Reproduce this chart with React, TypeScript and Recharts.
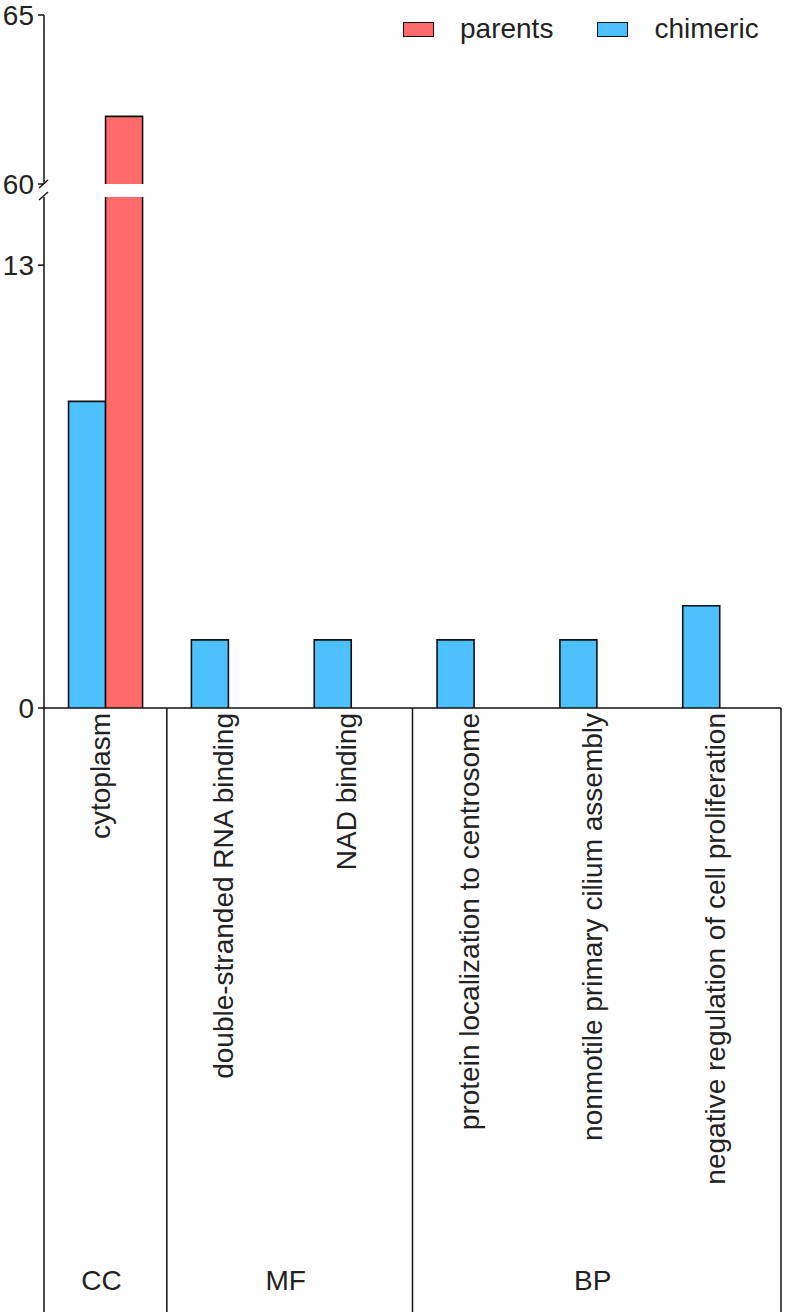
import { BarChart, Bar, XAxis, YAxis, Legend } from "recharts";

const CATEGORIES = [
  "cytoplasm",
  "double-stranded RNA binding",
  "NAD binding",
  "protein localization to centrosome",
  "nonmotile primary cilium assembly",
  "negative regulation of cell proliferation",
];
const GROUP_OF = ["CC", "MF", "MF", "BP", "BP", "BP"];
const CHIMERIC = [9, 2, 2, 2, 2, 3];
const PARENTS = [62, 0, 0, 0, 0, 0];

const UPPER_DOMAIN = [60, 65];
const UPPER_TICKS = [60, 65];
const LOWER_DOMAIN = [0, 15];
const LOWER_TICKS = [0, 13];

const LEGEND_ORDER = ["parents", "chimeric"];

const BLUE = "#4DC0FF";
const RED = "#FF6B6B";
const INK = "#111";
const FONT = "'Liberation Sans', Arial, sans-serif";

// layout
const W = 787;
const AXIS_X = 44;
const PLOT_RIGHT = 781;
const BAND = (PLOT_RIGHT - AXIS_X) / CATEGORIES.length;
const UPPER_H = 206;
const LOWER_TOP = 190;
const LOWER_H = 1315 - LOWER_TOP;
const AXIS_AREA = 604;

const upperData = CATEGORIES.map((name, i) => ({
  name,
  chimeric: CHIMERIC[i] > UPPER_DOMAIN[0] ? CHIMERIC[i] : null,
  parents: PARENTS[i] > UPPER_DOMAIN[0] ? PARENTS[i] : null,
}));

const lowerData = CATEGORIES.map((name, i) => ({
  name,
  chimeric: CHIMERIC[i],
  parents: PARENTS[i],
}));

// bar with outline on left, top, right only (bottom sits on axis / break)
const OpenBar = (props: any) => {
  const { x, y, width, height, fill } = props;
  if (!height || height < 0.5) return <g />;
  return (
    <g>
      <rect x={x} y={y} width={width} height={height} fill={fill} />
      <path
        d={`M${x},${y + height}V${y}H${x + width}V${y + height}`}
        fill="none"
        stroke={INK}
        strokeWidth={1.6}
      />
    </g>
  );
};

const YTick = (props: any) => {
  const { x, y, payload, brk } = props;
  return (
    <g>
      <text x={x} y={y} dy="0.36em" textAnchor="end" fontSize={28} fill="#222" fontFamily={FONT}>
        {payload.value}
      </text>
      {brk && payload.value === UPPER_DOMAIN[0] && (
        <g stroke={INK} strokeWidth={1.4}>
          <line x1={AXIS_X - 5} y1={y + 4} x2={AXIS_X + 4} y2={y - 4} />
          <line x1={AXIS_X - 5} y1={y + 16} x2={AXIS_X + 4} y2={y + 8} />
        </g>
      )}
    </g>
  );
};

const CategoryTick = (props: any) => {
  const { x, y, payload } = props;
  const i = payload.index;
  const g = GROUP_OF[i];
  const first = i === 0 || GROUP_OF[i - 1] !== g;
  const last = i === CATEGORIES.length - 1;
  const count = GROUP_OF.filter((v) => v === g).length;
  return (
    <g>
      <text
        transform={`translate(${x + 5},${y + 5}) rotate(-90)`}
        textAnchor="end"
        fontSize={28}
        fill="#222"
        fontFamily={FONT}
      >
        {payload.value}
      </text>
      {first && (
        <line x1={x - BAND / 2} x2={x - BAND / 2} y1={y} y2={y + AXIS_AREA} stroke={INK} strokeWidth={1.5} />
      )}
      {last && (
        <line x1={x + BAND / 2} x2={x + BAND / 2} y1={y} y2={y + AXIS_AREA} stroke={INK} strokeWidth={1.5} />
      )}
      {first && (
        <text
          x={x + ((count - 1) * BAND) / 2 - 4}
          y={y + 582}
          textAnchor="middle"
          fontSize={28}
          fill="#222"
          fontFamily={FONT}
        >
          {g}
        </text>
      )}
    </g>
  );
};

const renderLegend = (props: any) => {
  const items = [...(props.payload || [])].sort(
    (a: any, b: any) => LEGEND_ORDER.indexOf(a.value) - LEGEND_ORDER.indexOf(b.value),
  );
  return (
    <div style={{ display: "flex", alignItems: "center", height: 32, fontFamily: FONT, fontSize: 28, color: "#222" }}>
      {items.map((it: any, k: number) => (
        <div key={it.value} style={{ display: "flex", alignItems: "center", marginRight: k === 0 ? 44 : 0 }}>
          <span
            style={{
              display: "inline-block",
              width: 29,
              height: 13,
              background: it.color,
              border: `1.5px solid ${INK}`,
              marginRight: 26,
            }}
          />
          <span style={{ lineHeight: "32px" }}>{it.value}</span>
        </div>
      ))}
    </div>
  );
};

export default function App() {
  return (
    <div style={{ position: "absolute", left: 0, top: 0, width: W, height: 1315, background: "#fff", fontFamily: FONT }}>
      <div style={{ position: "absolute", left: 0, top: 0 }}>
        <BarChart
          width={W}
          height={UPPER_H}
          data={upperData}
          margin={{ top: 15, right: W - PLOT_RIGHT, bottom: UPPER_H - 184, left: 0 }}
          barCategoryGap="20%"
          barGap={0}
        >
          <XAxis dataKey="name" hide />
          <YAxis
            width={AXIS_X}
            domain={UPPER_DOMAIN}
            ticks={UPPER_TICKS}
            allowDataOverflow
            axisLine={{ stroke: INK, strokeWidth: 1.5 }}
            tickLine={{ stroke: INK, strokeWidth: 1.5 }}
            tickSize={6}
            tickMargin={4}
            tick={(p: any) => <YTick {...p} brk />}
          />
          <Legend
            layout="vertical"
            verticalAlign="middle"
            align="center"
            wrapperStyle={{ top: 13, left: 403, width: 380, height: 32 }}
            content={renderLegend}
          />
          <Bar dataKey="chimeric" name="chimeric" fill={BLUE} shape={OpenBar} isAnimationActive={false} />
          <Bar dataKey="parents" name="parents" fill={RED} shape={OpenBar} isAnimationActive={false} />
        </BarChart>
      </div>
      <div style={{ position: "absolute", left: 0, top: LOWER_TOP }}>
        <BarChart
          width={W}
          height={LOWER_H}
          data={lowerData}
          margin={{ top: 7, right: W - PLOT_RIGHT, bottom: 3, left: 0 }}
          barCategoryGap="20%"
          barGap={0}
        >
          <XAxis
            dataKey="name"
            height={AXIS_AREA}
            interval={0}
            tickSize={0}
            tickMargin={0}
            tickLine={false}
            axisLine={{ stroke: INK, strokeWidth: 1.5 }}
            tick={(p: any) => <CategoryTick {...p} />}
          />
          <YAxis
            width={AXIS_X}
            domain={LOWER_DOMAIN}
            ticks={LOWER_TICKS}
            allowDataOverflow
            axisLine={{ stroke: INK, strokeWidth: 1.5 }}
            tickLine={{ stroke: INK, strokeWidth: 1.5 }}
            tickSize={6}
            tickMargin={4}
            tick={(p: any) => <YTick {...p} />}
          />
          <Bar dataKey="chimeric" name="chimeric" fill={BLUE} shape={OpenBar} isAnimationActive={false} />
          <Bar dataKey="parents" name="parents" fill={RED} shape={OpenBar} isAnimationActive={false} />
        </BarChart>
      </div>
    </div>
  );
}
